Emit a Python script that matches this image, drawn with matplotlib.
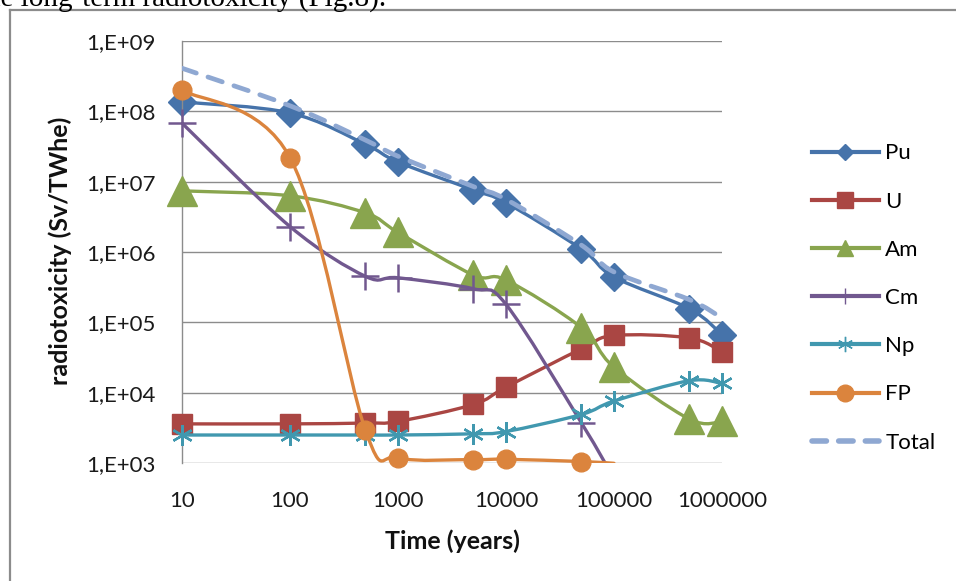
import numpy as np
import matplotlib
matplotlib.use("Agg")
import matplotlib.pyplot as plt
from matplotlib.path import Path
from matplotlib.patches import PathPatch
from matplotlib.lines import Line2D

plt.rcParams['font.family'] = ['Lato', 'DejaVu Sans']

# ---- data ----
time_years = [10, 100, 500, 1000, 5000, 10000, 50000, 100000, 500000, 1000000]
pu = [1.36e8, 9.5e7, 3.4e7, 1.9e7, 7.6e6, 5.0e6, 1.1e6, 4.4e5, 1.56e5, 6.7e4]
u = [3.6e3, 3.6e3, 3.7e3, 3.9e3, 6.8e3, 1.2e4, 4.2e4, 6.5e4, 6.0e4, 3.8e4]
am = [7.4e6, 6.3e6, 3.6e6, 1.9e6, 4.7e5, 4.0e5, 8.4e4, 2.3e4, 4.2e3, 3.9e3]
cm = [6.8e7, 2.3e6, 4.5e5, 4.3e5, 3.0e5, 1.8e5, 3.7e3, 6.0e2]
np_ = [2.5e3, 2.5e3, 2.5e3, 2.5e3, 2.6e3, 2.8e3, 4.9e3, 7.6e3, 1.48e4, 1.35e4]
fp = [2.0e8, 2.2e7, 2.9e3, 1.19e3, 1.12e3, 1.13e3, 1.05e3, 9.9e2]
total = [4.1e8, 1.2e8, 3.9e7, 2.3e7, 8.5e6, 5.6e6, 1.25e6, 5.2e5, 2.1e5, 1.15e5]

series_names = ['Pu', 'U', 'Am', 'Cm', 'Np', 'FP']
series_values = [pu, u, am, cm, np_, fp]
y_tick_labels = ['1,E+03', '1,E+04', '1,E+05', '1,E+06', '1,E+07', '1,E+08', '1,E+09']
x_tick_labels = ['10', '100', '1000', '10000', '100000', '1000000']

colors = ['#4673AA', '#AA4643', '#89A54E', '#71588F', '#4198AF', '#DB843D']
total_color = '#8FA8D2'
markers = ['D', 's', '^', '+', (6, 2, 0), 'o']
msizes = [14, 14.4, 21.5, 19.5, 15, 13.5]
mews = [1.0, 1.0, 1.0, 1.8, 1.7, 1.0]
leg_msizes = [8, 11, 12, 12, 11, 12]
YMIN, YMAX = 1e3, 1e9


def smooth_path(x, y):
    """Catmull-Rom style Bezier (Excel 'smoothed line') in log-log space."""
    lx = np.log10(np.asarray(x, float))
    ly = np.log10(np.asarray(y, float))
    pts = np.column_stack([lx, ly])
    n = len(pts)
    verts = [pts[0]]
    codes = [Path.MOVETO]
    for i in range(n - 1):
        p0 = pts[max(i - 1, 0)]
        p1 = pts[i]
        p2 = pts[i + 1]
        p3 = pts[min(i + 2, n - 1)]
        c1 = p1 + (p2 - p0) / 6.0
        c2 = p2 - (p3 - p1) / 6.0
        verts += [c1, c2, p2]
        codes += [Path.CURVE4] * 3
    verts = 10 ** np.array(verts)
    return Path(verts, codes)


fig = plt.figure(figsize=(9.56, 5.81), dpi=100)
ax = fig.add_axes([182 / 956, 1 - 463 / 581, 540 / 956, 422 / 581])
ax.set_xscale('log')
ax.set_yscale('log')
ax.set_xlim(10, 1e6)
ax.set_ylim(YMIN, YMAX)

grid_c = '#8C8C8C'
for v in [1e3, 1e4, 1e5, 1e6, 1e7, 1e8, 1e9]:
    ax.axhline(v, color=grid_c, lw=1.0, zorder=0.5)
for s in ['top', 'right', 'bottom']:
    ax.spines[s].set_visible(False)
ax.spines['left'].set_color(grid_c)
ax.spines['left'].set_linewidth(1.0)

handles = []
for k, (name, vals) in enumerate(zip(series_names, series_values)):
    xs = time_years[:len(vals)]
    z = 2 + k
    patch = PathPatch(smooth_path(xs, vals), fill=False, edgecolor=colors[k],
                      lw=2.4, capstyle='round', joinstyle='round', zorder=z)
    ax.add_patch(patch)
    xm = [a for a, b in zip(xs, vals) if b > YMIN * 1.001]
    ym = [b for b in vals if b > YMIN * 1.001]
    ax.plot(xm, ym, linestyle='none', marker=markers[k], ms=msizes[k],
            color=colors[k], mec=colors[k], mew=mews[k], zorder=z + 0.1,
            clip_on=False)
    handles.append(Line2D([], [], color=colors[k], lw=3.0, marker=markers[k],
                          ms=leg_msizes[k], mec=colors[k], mew=1.0))

tpatch = PathPatch(smooth_path(time_years, total), fill=False,
                   edgecolor=total_color, lw=3.4, linestyle=(0, (3.2, 2.6)),
                   capstyle='round', zorder=9)
ax.add_patch(tpatch)
handles.append(Line2D([], [], color=total_color, lw=4.0,
                      linestyle=(0, (2.6, 2.2)), dash_capstyle='round'))

ax.set_yticks([1e3, 1e4, 1e5, 1e6, 1e7, 1e8, 1e9])
ax.set_yticklabels(y_tick_labels)
ax.set_xticks([10, 100, 1000, 1e4, 1e5, 1e6])
ax.set_xticklabels(x_tick_labels)
ax.minorticks_off()
ax.tick_params(axis='both', length=0, labelsize=16, colors='#1a1a1a')
ax.tick_params(axis='y', pad=19)
ax.tick_params(axis='x', pad=20)

fig.text(452 / 956, 1 - 541 / 581, 'Time (years)', ha='center', va='center',
         fontsize=18, fontweight='bold', color='#111111')
fig.text(60 / 956, 1 - 251 / 581, 'radiotoxicity (Sv/TWhe)', ha='center',
         va='center', rotation=90, fontsize=18, fontweight='bold',
         color='#111111')

leg = fig.legend(handles, series_names + ['Total'], loc='center left',
                 bbox_to_anchor=(812 / 956, 1 - 298 / 581), frameon=False,
                 fontsize=16, handlelength=3.0, handletextpad=0.3,
                 labelspacing=1.27, borderpad=0, borderaxespad=0)

# surrounding frame (top and left visible) and the cut text above it
fig.add_artist(Line2D([9.5 / 956, 9.5 / 956], [0, 1 - 10 / 581],
                      transform=fig.transFigure, color='#8C8C8C', lw=1.6))
fig.add_artist(Line2D([9.5 / 956, 1], [1 - 10 / 581, 1 - 10 / 581],
                      transform=fig.transFigure, color='#8C8C8C', lw=1.6))
fig.text(-14 / 956, 1 - 6 / 581, 'he long-term radiotoxicity (Fig.8).',
         ha='left', va='baseline', fontsize=21, family='Liberation Serif',
         color='black')

fig.savefig('out.png', dpi=100)
